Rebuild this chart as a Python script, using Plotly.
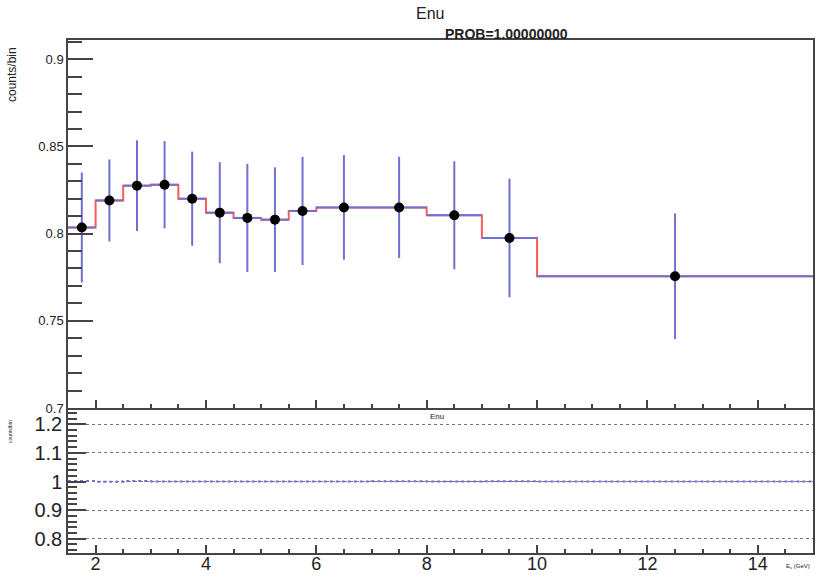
import plotly.graph_objects as go

# ---- data ----
bin_edges = [1.5, 2.0, 2.5, 3.0, 3.5, 4.0, 4.5, 5.0, 5.5, 6.0, 7.0, 8.0, 9.0, 10.0, 15.0]
data_vals = [0.8035, 0.819, 0.8275, 0.828, 0.820, 0.812, 0.809, 0.808, 0.813, 0.815, 0.815, 0.8105, 0.7975, 0.7755]
data_errs = [0.0315, 0.0235, 0.026, 0.025, 0.027, 0.029, 0.031, 0.030, 0.031, 0.030, 0.029, 0.031, 0.034, 0.036]
mc_vals = [0.8035, 0.819, 0.8275, 0.828, 0.820, 0.812, 0.809, 0.808, 0.813, 0.815, 0.815, 0.8105, 0.7975, 0.7755]
ratio_vals = [1.002, 0.999, 1.002, 1.0, 1.0, 1.0, 1.0, 1.0, 1.0, 1.0, 1.001, 1.0, 1.001, 1.0]

centers = [(a + b) / 2 for a, b in zip(bin_edges[:-1], bin_edges[1:])]
halfw = [(b - a) / 2 for a, b in zip(bin_edges[:-1], bin_edges[1:])]

BLUE = "rgb(112,112,210)"
RED = "rgb(255,90,90)"
AX = "#444444"
FONT = "Liberation Sans, Arial, Helvetica, sans-serif"

W, H = 816, 578
ML, MR, MT, MB = 68, 3, 40, 25
PW, PH = W - ML - MR, H - MT - MB

fig = go.Figure()

# MC step histogram (red) in top panel
fig.add_trace(go.Scatter(
    x=bin_edges, y=mc_vals + [mc_vals[-1]], mode="lines", line_shape="hv",
    line=dict(color=RED, width=2), xaxis="x2", yaxis="y2", hoverinfo="skip"))

# Data points with error bars (blue bars, black markers)
fig.add_trace(go.Scatter(
    x=centers, y=data_vals, mode="markers",
    marker=dict(color="black", size=10),
    error_y=dict(type="data", array=data_errs, color=BLUE, thickness=2, width=0),
    error_x=dict(type="data", array=halfw, color=BLUE, thickness=2, width=0),
    xaxis="x2", yaxis="y2"))

# Ratio panel
fig.add_trace(go.Scatter(
    x=bin_edges, y=ratio_vals + [ratio_vals[-1]], mode="lines", line_shape="hv",
    line=dict(color=BLUE, width=2, dash="dot"), xaxis="x", yaxis="y"))

top_bottom = (H - MB - 408) / PH
bot_top = (H - MB - 410) / PH

fig.update_layout(
    width=W, height=H,
    margin=dict(l=ML, r=MR, t=MT, b=MB, autoexpand=False),
    paper_bgcolor="white", plot_bgcolor="white",
    showlegend=False,
    font=dict(family=FONT, color="#222"),
    xaxis=dict(
        domain=[0, 1], range=[1.5, 15], anchor="y", automargin=False,
        tickvals=[2, 4, 6, 8, 10, 12, 14], ticks="inside", ticklen=8, tickwidth=1.5,
        tickcolor=AX, tickfont=dict(size=18, family=FONT, color="#222"),
        ticklabelstandoff=-6,
        minor=dict(dtick=0.5, tick0=0, ticks="inside", ticklen=4, tickwidth=1.5, tickcolor=AX),
        showline=True, linecolor=AX, linewidth=1.5, mirror=True, showgrid=False, zeroline=False),
    yaxis=dict(
        domain=[0, bot_top], range=[0.75, 1.25], anchor="x", automargin=False,
        tickvals=[0.8, 0.9, 1.0, 1.1, 1.2], ticktext=["0.8", "0.9", "1", "1.1", "1.2"],
        ticks="inside", ticklen=18, tickwidth=1.5, tickcolor=AX,
        tickfont=dict(size=20, family=FONT, color="#222"),
        minor=dict(dtick=0.02, tick0=0, ticks="inside", ticklen=9, tickwidth=1.5, tickcolor=AX),
        showgrid=True, gridcolor="#777777", griddash="dot", gridwidth=1,
        showline=True, linecolor=AX, linewidth=1.5, mirror=True, zeroline=False),
    xaxis2=dict(
        domain=[0, 1], range=[1.5, 15], anchor="y2", matches="x", automargin=False,
        tickvals=[2, 4, 6, 8, 10, 12, 14], showticklabels=False,
        ticks="inside", ticklen=8, tickwidth=1.5, tickcolor=AX,
        minor=dict(dtick=0.5, tick0=0, ticks="inside", ticklen=4, tickwidth=1.5, tickcolor=AX),
        showline=True, linecolor=AX, linewidth=1.5, mirror=True, showgrid=False, zeroline=False),
    yaxis2=dict(
        domain=[top_bottom, 1], range=[0.7, 0.911], anchor="x2", automargin=False,
        tickvals=[0.7, 0.75, 0.8, 0.85, 0.9], ticktext=["0.7", "0.75", "0.8", "0.85", "0.9"],
        ticks="inside", ticklen=25, tickwidth=1.5, tickcolor=AX,
        tickfont=dict(size=13, family=FONT, color="#222"),
        minor=dict(dtick=0.01, tick0=0, ticks="inside", ticklen=14, tickwidth=1.5, tickcolor=AX),
        showline=True, linecolor=AX, linewidth=1.5, mirror=True, showgrid=False, zeroline=False),
)

ann = [
    ("Enu", 430, 14, 16, 0),
    ("<b>PROB=1.00000000</b>", 506, 34, 14, 0),
    ("Enu", 437, 416, 8, 0),
    ("E<sub>ν</sub> (GeV)", 798, 566, 6, 0),
    ("counts/bin", 12, 75, 12, -90),
    ("counts/bin", 10, 432, 5, -90),
]
for text, px, py, size, ang in ann:
    fig.add_annotation(
        text=text, x=(px - ML) / PW, y=(H - MB - py) / PH, xref="paper", yref="paper",
        showarrow=False, xanchor="center", yanchor="middle", textangle=ang,
        font=dict(family=FONT, color="#222", size=size))

fig.write_html(
    "out.html",
    config={"displayModeBar": False},
    post_script="document.body.style.margin='0';document.body.style.overflow='hidden';",
)
